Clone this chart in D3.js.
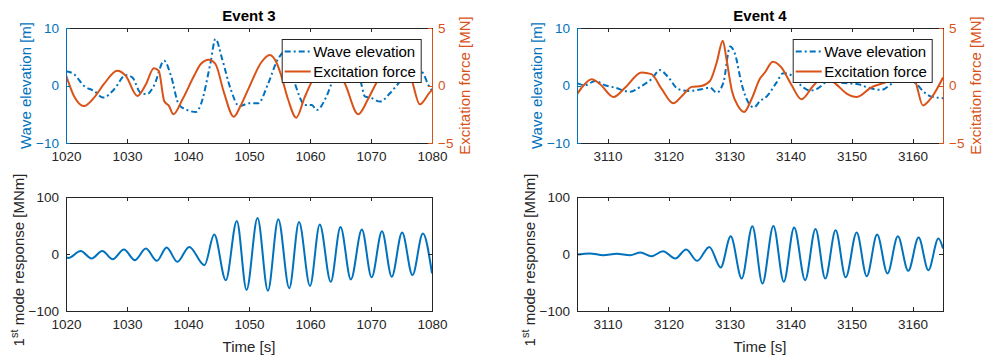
<!DOCTYPE html>
<html>
<head>
<meta charset="utf-8">
<script src="https://cdn.jsdelivr.net/npm/d3@7/dist/d3.min.js"></script>
<style>
body { margin: 0; background: #fff; }
text { font-family: "Liberation Sans", Arial, sans-serif; }
</style>
</head>
<body>
<svg id="fig" width="987" height="359"></svg>
<script>
// x ranges and ticks
var ev3Range = [1020, 1080],
    ev4Range = [3105, 3165];
var ev3Ticks = [1020, 1030, 1040, 1050, 1060, 1070, 1080],
    ev4Ticks = [3110, 3120, 3130, 3140, 3150, 3160];
var waveTicks = [-10, 0, 10],
    forceTicks = [-5, 0, 5],
    respTicks = [-100, 0, 100];

// event 3 : [time s, value]
var ev3Wave = [[1020, 2.5], [1021.3, 1.98], [1022.95, -0.07], [1024.6, -0.95], [1026.1, -2.1],
  [1027.9, -0.65], [1029.8, 1.8], [1030.9, 1.38], [1032.2, -1.24], [1033.3, -1.5], [1034.4, -0.07],
  [1036.1, 4.3], [1037.2, 1.7], [1038.5, -3.3], [1039.9, -4.27], [1041.3, -4.6], [1042.1, -3.3],
  [1043.7, 4.0], [1044.5, 8.1], [1045.6, 4.6], [1047.0, -0.65], [1048.4, -3.6], [1050, -3.1],
  [1051.5, -3.1], [1053.1, 0.23], [1054.75, 4.6], [1055.8, 5.8], [1057.3, 1.0], [1059.2, -3.4],
  [1060.3, -3.4], [1061.1, -4.27], [1062.7, -1.9], [1063.8, 1.0], [1066, 3.2], [1068.2, 1.0],
  [1069, -1.9], [1070.1, -2.2], [1071.5, -2.8], [1073.1, -1.35], [1074.75, 0.7], [1076.8, 3.4],
  [1078.5, 2.2], [1079.4, 0.1], [1080, -0.9]];
var ev3Force = [[1020, 0.9], [1021.3, -0.91], [1022.95, -1.79], [1024.6, -1.06], [1026.2, 0.11],
  [1028.4, 1.28], [1029.8, 0.84], [1031.7, -0.91], [1033.1, 0.11], [1034.4, 1.5], [1035.2, 1.28],
  [1036.1, -1.35], [1036.9, -1.79], [1037.6, -2.5], [1039.1, -1.2], [1041.0, 0.84], [1042.1, 1.87],
  [1043.4, 2.24], [1044.5, 1.87], [1045.9, -0.62], [1047.5, -2.72], [1048.6, -1.79], [1050, -0.18],
  [1052, 2.0], [1053.4, 2.65], [1054.5, 2.0], [1055.3, 0.84], [1056.4, -1.2], [1057.75, -2.8],
  [1059.1, -1.06], [1060.2, 0.25], [1062.8, 2.4], [1065.7, 0.2], [1067.9, -2.5], [1069.5, -1.2],
  [1070.7, 0.05], [1073.6, 2.2], [1076.6, 0.55], [1078, -1.64], [1079.6, -0.62], [1080, -0.4]];
var ev3Resp = [[1020, -6], [1020.4, -6.8], [1022.4, 5.4], [1024.2, -7.9], [1025.95, 5.4], [1027.65, -9.1],
  [1029.5, 7.9], [1031.3, -10.8], [1033.1, 9.6], [1034.9, -12], [1036.5, 11.4], [1038.25, -13.7],
  [1040.2, 12.5], [1042.7, -19.6], [1044.3, 34], [1046.2, -46], [1048.0, 58], [1049.6, -63],
  [1051.4, 63], [1053.1, -64.5], [1054.8, 61], [1056.6, -60], [1058.2, 56], [1060, -56],
  [1061.6, 51.6], [1063.4, -48.8], [1065.0, 47.4], [1066.7, -44.6], [1068.5, 42.9], [1070.1, -41],
  [1071.8, 40], [1073.4, -40], [1075.1, 37.6], [1076.8, -37], [1078.5, 35.8], [1080, -34]];

// event 4
var ev4Wave = [[3105, 0.4], [3106.3, 0.05], [3108, 0.8], [3109.6, 0.05], [3111.2, -0.37], [3113.7, -1.1],
  [3115.6, -0.07], [3117.2, 1.1], [3118.6, 2.68], [3120, 1.38], [3121.6, -0.65], [3123.2, -0.95],
  [3125.4, -0.65], [3126.8, -0.37], [3127.9, -1.24], [3129, 0.5], [3130.1, 6.8], [3130.9, 5.5],
  [3132, 0.23], [3133.1, -3.0], [3134, -3.8], [3135, -2.7], [3136.1, -1.9], [3137.7, 0.5],
  [3138.8, 2.15], [3140.1, 1.8], [3141.5, 0.23], [3143.2, -0.9], [3144.3, -0.6], [3146.5, 0.9],
  [3148.3, 0.5], [3151.1, 0.23], [3152.7, -0.37], [3154.9, -0.77], [3156.5, 0.23], [3158.5, 1.5],
  [3160.6, 0.3], [3162, -1.24], [3163.1, -1.94], [3165, -2.2]];
var ev4Force = [[3105, -0.76], [3106, -0.04], [3107.4, 0.55], [3108.8, 0.11], [3111, -1.0], [3112.9, -0.18],
  [3115.6, 1.13], [3117.2, 0.99], [3118.9, -0.32], [3120.8, -1.55], [3122.2, -0.91], [3123.8, -0.12],
  [3125.4, -0.04], [3126.8, 0.4], [3127.9, 2.0], [3128.9, 3.9], [3129.5, 2.3], [3130.4, -0.47],
  [3131.4, -1.79], [3132.4, -2.3], [3133.6, -1.2], [3135, 0.6], [3135.8, 1.13], [3137.1, 2.07],
  [3138.5, 1.57], [3140.1, 0.11], [3141.8, -1.2], [3143.7, -0.04], [3145.5, 0.8], [3147.5, 0.1],
  [3149.2, -0.7], [3150.9, -1.0], [3153.2, -0.18], [3155.8, 0.34], [3158.2, 1.2], [3160.4, 0.4],
  [3161.7, -1.73], [3163.1, -1.06], [3165, 0.7]];
var ev4Resp = [[3105, -1], [3107.1, 1], [3109.3, -2], [3111.5, 0.3], [3113.7, -2], [3115.4, 2.6],
  [3117.2, -3.9], [3119.1, 4.9], [3121.1, -7.9], [3122.9, 7.9], [3124.7, -12], [3126.7, 12.5],
  [3128.55, -23.7], [3130.2, 31], [3132.0, -43], [3133.75, 48.6], [3135.4, -51.7], [3137.2, 49.2],
  [3138.9, -48.8], [3140.6, 46.4], [3142.4, -45.9], [3144.1, 44], [3145.7, -43], [3147.4, 41.6],
  [3149.05, -41], [3150.85, 37.6], [3152.5, -38.9], [3154.2, 34], [3155.9, -34], [3157.6, 31],
  [3159.3, -29.5], [3161.0, 28.8], [3162.6, -28.4], [3164.25, 27], [3165, 9.6]];

var titles = ['Event 3', 'Event 4'];
var legendNames = ['Wave elevation', 'Excitation force'];

var blue = '#0072BD', orange = '#D95319', dark = '#262626';
var svg = d3.select('#fig');

var topY = [28, 143], botY = [197, 311];

function styleAxis(g, color, showText) {
  g.selectAll('path.domain').attr('stroke', color).attr('stroke-width', 1).attr('shape-rendering', 'crispEdges');
  g.selectAll('.tick line').attr('stroke', color).attr('shape-rendering', 'crispEdges');
  g.selectAll('.tick text').attr('fill', color).attr('font-size', '13.5px')
    .attr('font-family', '"Liberation Sans", Arial, sans-serif');
  if (!showText) g.selectAll('.tick text').remove();
}

function drawPanel(id, x0, x1, domain, xticks, title, wave, force, resp) {
  var x = d3.scaleLinear().domain(domain).range([x0, x1]);

  // ---- top: wave + force (two y axes)
  var yw = d3.scaleLinear().domain([-10, 10]).range([topY[1], topY[0]]);
  var yf = d3.scaleLinear().domain([-5, 5]).range([topY[1], topY[0]]);

  svg.append('clipPath').attr('id', 'ct' + id).append('rect')
    .attr('x', x0).attr('y', topY[0]).attr('width', x1 - x0).attr('height', topY[1] - topY[0]);

  var gT = svg.append('g').attr('clip-path', 'url(#ct' + id + ')');
  gT.append('path').datum(wave)
    .attr('d', d3.line().x(function (d) { return x(d[0]); }).y(function (d) { return yw(d[1]); }).curve(d3.curveMonotoneX))
    .attr('fill', 'none').attr('stroke', blue).attr('stroke-width', 2).attr('stroke-dasharray', '6,3,2,3');
  gT.append('path').datum(force)
    .attr('d', d3.line().x(function (d) { return x(d[0]); }).y(function (d) { return yf(d[1]); }).curve(d3.curveMonotoneX))
    .attr('fill', 'none').attr('stroke', orange).attr('stroke-width', 2);

  styleAxis(svg.append('g').attr('transform', 'translate(0,' + topY[1] + ')')
    .call(d3.axisBottom(x).tickValues(xticks).tickSizeInner(-4).tickSizeOuter(0).tickPadding(8).tickFormat(d3.format('d'))), dark, true);
  styleAxis(svg.append('g').attr('transform', 'translate(0,' + topY[0] + ')')
    .call(d3.axisTop(x).tickValues(xticks).tickSizeInner(-4).tickSizeOuter(0)), dark, false);
  styleAxis(svg.append('g').attr('transform', 'translate(' + x0 + ',0)')
    .call(d3.axisLeft(yw).tickValues(waveTicks).tickSizeInner(-4).tickSizeOuter(0).tickPadding(7)), blue, true);
  styleAxis(svg.append('g').attr('transform', 'translate(' + x1 + ',0)')
    .call(d3.axisRight(yf).tickValues(forceTicks).tickSizeInner(-4).tickSizeOuter(0).tickPadding(6)), orange, true);

  svg.append('text').attr('x', (x0 + x1) / 2).attr('y', 21).attr('text-anchor', 'middle')
    .attr('font-size', '15px').attr('font-weight', 'bold').attr('fill', '#000').text(title);

  var cy = (topY[0] + topY[1]) / 2;
  svg.append('text').attr('transform', 'translate(' + (x0 - 35) + ',' + cy + ') rotate(-90)')
    .attr('text-anchor', 'middle').attr('font-size', '15px').attr('fill', blue).text('Wave elevation [m]');
  svg.append('text').attr('transform', 'translate(' + (x1 + 38) + ',' + cy + ') rotate(-90)')
    .attr('text-anchor', 'middle').attr('font-size', '15px').attr('fill', orange).text('Excitation force [MN]');

  // legend
  var lx = x1 - 150.3, ly = 39;
  var lg = svg.append('g');
  lg.append('rect').attr('x', lx + 0.5).attr('y', ly + 0.5).attr('width', 139).attr('height', 43)
    .attr('fill', '#fff').attr('stroke', dark).attr('stroke-width', 1);
  [[blue, '6,3,2,3'], [orange, null]].forEach(function (s, i) {
    var yy = ly + 12.5 + i * 20;
    lg.append('line').attr('x1', lx + 3).attr('x2', lx + 29).attr('y1', yy).attr('y2', yy)
      .attr('stroke', s[0]).attr('stroke-width', 2).attr('stroke-dasharray', s[1]);
    lg.append('text').attr('x', lx + 31.5).attr('y', yy + 5.3).attr('font-size', '15px')
      .attr('fill', '#000').text(legendNames[i]);
  });

  // ---- bottom: 1st mode response
  var yr = d3.scaleLinear().domain([-100, 100]).range([botY[1], botY[0]]);
  svg.append('clipPath').attr('id', 'cb' + id).append('rect')
    .attr('x', x0).attr('y', botY[0]).attr('width', x1 - x0).attr('height', botY[1] - botY[0]);
  svg.append('g').attr('clip-path', 'url(#cb' + id + ')').append('path').datum(resp)
    .attr('d', d3.line().x(function (d) { return x(d[0]); }).y(function (d) { return yr(d[1]); }).curve(d3.curveMonotoneX))
    .attr('fill', 'none').attr('stroke', blue).attr('stroke-width', 2);

  styleAxis(svg.append('g').attr('transform', 'translate(0,' + botY[1] + ')')
    .call(d3.axisBottom(x).tickValues(xticks).tickSizeInner(-4).tickSizeOuter(0).tickPadding(8).tickFormat(d3.format('d'))), dark, true);
  styleAxis(svg.append('g').attr('transform', 'translate(0,' + botY[0] + ')')
    .call(d3.axisTop(x).tickValues(xticks).tickSizeInner(-4).tickSizeOuter(0)), dark, false);
  styleAxis(svg.append('g').attr('transform', 'translate(' + x0 + ',0)')
    .call(d3.axisLeft(yr).tickValues(respTicks).tickSizeInner(-4).tickSizeOuter(0).tickPadding(7)), dark, true);
  styleAxis(svg.append('g').attr('transform', 'translate(' + x1 + ',0)')
    .call(d3.axisRight(yr).tickValues(respTicks).tickSizeInner(-4).tickSizeOuter(0)), dark, false);

  svg.append('text').attr('x', (x0 + x1) / 2).attr('y', 352).attr('text-anchor', 'middle')
    .attr('font-size', '15px').attr('fill', dark).text('Time [s]');

  var yl = svg.append('text').attr('transform', 'translate(' + (x0 - 42) + ',260) rotate(-90)')
    .attr('text-anchor', 'middle').attr('font-size', '15px').attr('fill', dark);
  yl.append('tspan').text('1');
  yl.append('tspan').attr('font-size', '11px').attr('dy', -6).text('st');
  yl.append('tspan').attr('dy', 6).text(' mode response [MNm]');
}

drawPanel(3, 66, 432, ev3Range, ev3Ticks, titles[0], ev3Wave, ev3Force, ev3Resp);
drawPanel(4, 577, 943, ev4Range, ev4Ticks, titles[1], ev4Wave, ev4Force, ev4Resp);
</script>
</body>
</html>
